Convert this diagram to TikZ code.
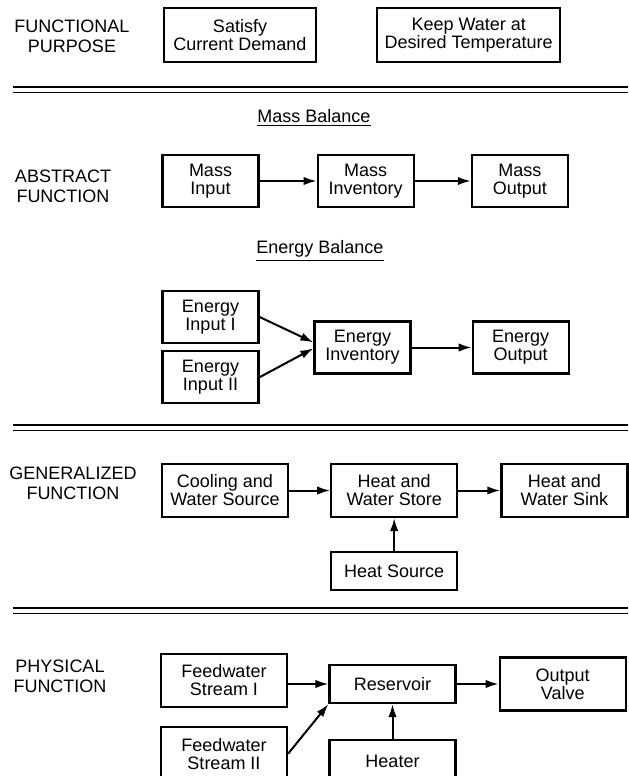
\documentclass[tikz,border=0pt]{standalone}
\usepackage{fontspec}
\setmainfont{Liberation Sans}
\usepackage{tikz}
\usetikzlibrary{arrows.meta, positioning}
\newcommand{\boxfont}{\fontsize{9}{9}\selectfont}
\newcommand{\lvlfont}{\fontsize{9}{10}\selectfont}
\tikzset{
  fbox/.style={rectangle, draw=black, line width=1.1pt, align=center, font=\boxfont, inner sep=2pt, minimum width=48pt, minimum height=26pt},
  widebox/.style={fbox, minimum width=63pt, minimum height=26.5pt},
  flatbox/.style={fbox, minimum width=63pt, minimum height=19pt},
  lvl/.style={align=center, font=\lvlfont, inner sep=0pt},
  head/.style={font=\lvlfont, inner sep=0pt},
  arr/.style={-{Latex[length=6.5pt,width=4.2pt]}, line width=1pt},
  rulethick/.style={line width=1.3pt},
  rulethin/.style={line width=0.8pt},
}

\begin{document}
\begin{tikzpicture}[x=0.5pt, y=-0.5pt, node distance=3pt]
\path[use as bounding box, fill=white] (0,0) rectangle (628,776);

% level separators
\foreach \y in {87,425,608} {
  \draw[rulethick] (13,\y) -- (628,\y);
  \draw[rulethin] (13,{\y+5.5}) -- (628,{\y+5.5});
}

% functional purpose
\node[lvl] (fp) at (72,36.5) {FUNCTIONAL\\PURPOSE};
\node[fbox, minimum width=76pt, minimum height=27pt] (sat) at (240,35) {Satisfy\\Current Demand};
\node[fbox, minimum width=91.5pt, minimum height=27pt, right=29.5pt of sat] (keep) {Keep Water at\\Desired Temperature};

% abstract function
\node[lvl] (af) at (63,186) {ABSTRACT\\FUNCTION};
\node[head] (mbal) at (314,118) {\underline{Mass Balance}};
\node[fbox] (min) at (210.5,181) {Mass\\Input};
\node[fbox, right=28.5pt of min] (minv) {Mass\\Inventory};
\node[fbox, right=28pt of minv] (mout) {Mass\\Output};
\draw[arr] (min)--(minv); \draw[arr] (minv)--(mout);

\node[head] (ebal) at (320,251) {\underline{Energy Balance}};
\node[fbox] (ein1) at (210.5,317) {Energy\\Input I};
\node[fbox, below=of ein1] (ein2) {Energy\\Input II};
\node[fbox] (einv) at (362.5,347.5) {Energy\\Inventory};
\node[fbox, right=30pt of einv] (eout) {Energy\\Output};
\draw[arr] (ein1.east)--(einv.174); \draw[arr] (ein2.east)--(einv.181);
\draw[arr] (einv)--(eout);

% generalized function
\node[lvl] (gf) at (73,483.5) {GENERALIZED\\FUNCTION};
\node[widebox] (cool) at (225,490.5) {Cooling and\\Water Source};
\node[widebox, right=20.5pt of cool] (store) {Heat and\\Water Store};
\node[widebox, right=21pt of store] (sink) {Heat and\\Water Sink};
\node[flatbox, below=16.5pt of store] (hsrc) {Heat Source};
\draw[arr] (cool)--(store); \draw[arr] (store)--(sink);
\draw[arr] (hsrc)--(store);

% physical function
\node[lvl] (pf) at (60,676) {PHYSICAL\\FUNCTION};
\node[widebox] (fw1) at (224,680.5) {Feedwater\\Stream I};
\node[flatbox] (res) at (392.5,684) {Reservoir};
\node[widebox, right=21pt of res] (valve) {Output\\Valve};
\node[widebox, below=9pt of fw1] (fw2) {Feedwater\\Stream II};
\node[flatbox, minimum height=21pt, below=17.5pt of res] (heater) {Heater};
\draw[arr] (fw1.east |- res) -- (res.west); \draw[arr] (res)--(valve);
\draw[arr] (fw2.east) -- (res.south west);
\draw[arr] (heater)--(res);
\end{tikzpicture}
\end{document}
